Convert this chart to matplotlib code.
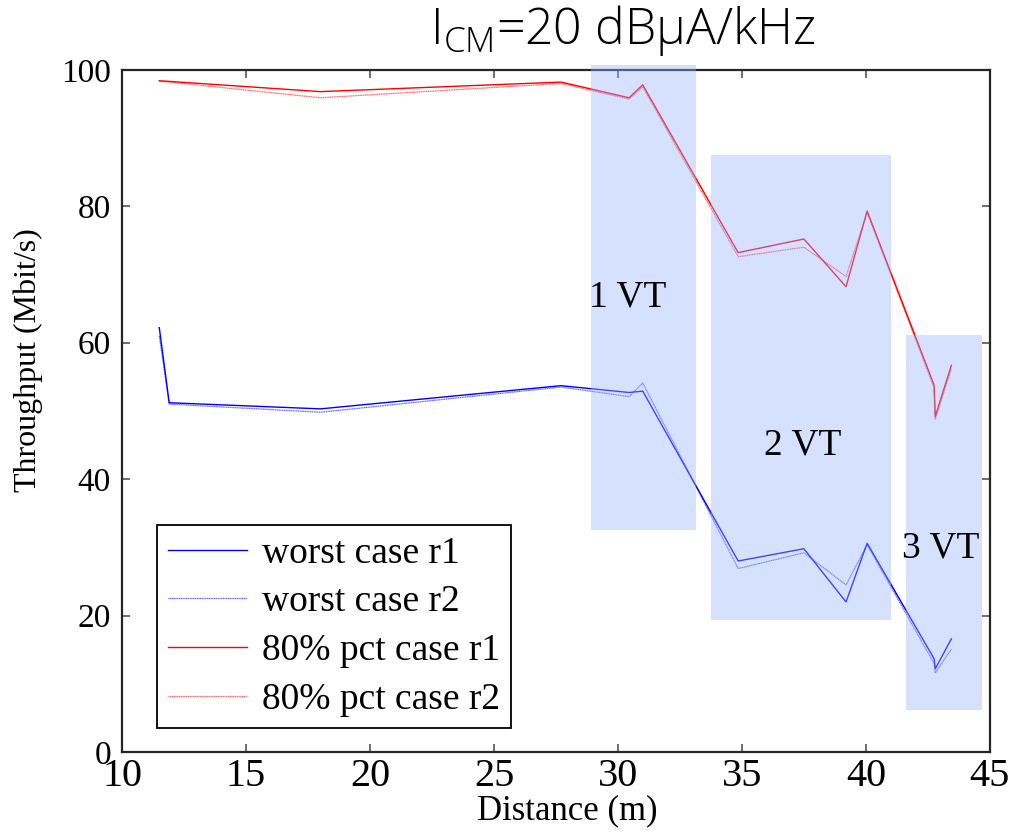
import matplotlib.pyplot as plt
from matplotlib.patches import Rectangle

# distance (m)
dist = [11.5, 11.9, 18, 27.7, 30.45, 31.0, 34.85, 37.5, 39.2, 40.05, 42.75, 42.8, 43.45]

worst_r1 = [62.2, 51.2, 50.3, 53.7, 52.7, 52.9, 28.0, 29.8, 22.0, 30.6, 13.7, 12.2, 16.6]
worst_r2 = [61.0, 51.0, 49.8, 53.5, 52.1, 54.1, 26.9, 29.2, 24.5, 30.4, 13.0, 11.6, 15.1]
pct_r1 = [98.4, 98.3, 96.8, 98.2, 95.9, 97.8, 73.2, 75.2, 68.2, 79.3, 53.8, 49.2, 56.7]
pct_r2 = [98.3, 98.2, 95.9, 98.0, 95.7, 97.5, 72.6, 74.0, 69.7, 79.1, 53.4, 48.8, 56.2]

# shaded zones: (x0, x1, y0, y1, label, label x, label y)
zones = [
    (28.9, 33.15, 32.5, 100.7, '1 VT', 30.4, 66.7),
    (33.75, 41.0, 19.3, 87.5, '2 VT', 37.45, 45.0),
    (41.6, 44.68, 6.2, 61.1, '3 VT', 43.0, 29.9),
]

serif = 'Liberation Serif'

fig = plt.figure(figsize=(10.09, 8.33), dpi=100)
ax = fig.add_axes([0.121, 0.0972, 0.860, 0.819])

ax.plot(dist, worst_r1, color=(0, 0, 1), lw=1.0, label='worst case r1')
ax.plot(dist, worst_r2, color=(0, 0, 1), lw=0.9, alpha=0.6, ls=(0, (1, 0.4)), label='worst case r2')
ax.plot(dist, pct_r1, color=(1, 0, 0), lw=1.0, label='80% pct case r1')
ax.plot(dist, pct_r2, color=(1, 0, 0), lw=0.9, alpha=0.6, ls=(0, (1, 0.4)), label='80% pct case r2')

for x0, x1, y0, y1, txt, tx, ty in zones:
    ax.add_patch(Rectangle((x0, y0), x1 - x0, y1 - y0, facecolor=(0.6, 0.7, 1.0),
                           alpha=0.4, edgecolor='none', zorder=3, clip_on=False))
    ax.text(tx, ty, txt, ha='center', va='center', fontsize=27, family=serif, zorder=4)

ax.set_xlim(10, 45)
ax.set_ylim(0, 100)
ax.set_xticks(range(10, 46, 5))
ax.set_yticks(range(0, 101, 20))

ax.tick_params(direction='in', top=True, right=True, length=6, width=1.2, color='#555555')
for lab in ax.get_xticklabels():
    lab.set_family(serif)
    lab.set_fontsize(29)
for lab in ax.get_yticklabels():
    lab.set_family(serif)
    lab.set_fontsize(24)
ax.tick_params(axis='x', pad=4)
ax.tick_params(axis='y', pad=8)
for sp in ax.spines.values():
    sp.set_linewidth(1.6)
    sp.set_color('#262626')

ax.set_xlabel('Distance (m)', fontsize=25, family=serif)
ax.set_ylabel('Throughput (Mbit/s)', fontsize=23, family=serif)
ax.xaxis.set_label_coords(0.513, -0.062)
ax.yaxis.set_label_coords(-0.091, 0.575)

leg = ax.legend(loc='lower left', bbox_to_anchor=(0.04, 0.035), prop={'family': serif, 'size': 27},
                fancybox=False, framealpha=1, edgecolor='black', handlelength=2.1,
                handletextpad=0.4, borderpad=0.3, labelspacing=0.38, borderaxespad=0)
leg.get_frame().set_linewidth(1.3)
leg.set_zorder(10)

fig.text(0.617, 0.963, r'I$\mathregular{_{CM}}$=20 dBμA/kHz', ha='center', va='center',
         fontsize=36, family=['Open Sans', 'DejaVu Sans'], weight='light', color='black')

fig.savefig('out.png', dpi=100)
